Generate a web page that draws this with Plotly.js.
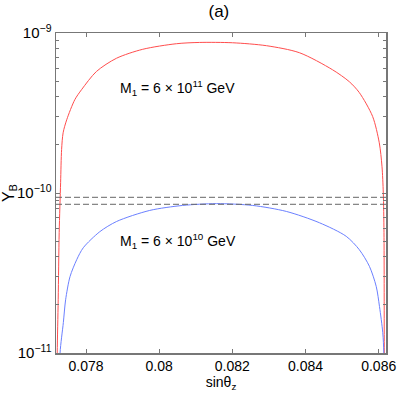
<!DOCTYPE html>
<html>
<head>
<meta charset="utf-8">
<script src="https://cdn.plot.ly/plotly-3.0.1.min.js"></script>
<style>
  html, body { margin: 0; padding: 0; background: #fff; }
  #grafico { width: 398px; height: 398px; }
</style>
</head>
<body>
<div id="grafico"></div>
<script>
// Curva M1 = 6e11 GeV (vermelha)
const xVermelho = [0.07720, 0.077213, 0.07724, 0.077267, 0.077306, 0.077333, 0.077375, 0.077473,
    0.077694, 0.077877, 0.078286, 0.078832, 0.07955, 0.08047, 0.081105, 0.082005, 0.082933,
    0.083833, 0.084734, 0.085198, 0.085471, 0.085834, 0.086016, 0.08609, 0.086126,
    0.086145, 0.086153, 0.08616];
const yVermelho = [5e-12, 1.0e-11, 2.15e-11, 5.65e-11, 1.16e-10, 1.87e-10, 2.38e-10, 2.87e-10,
    3.83e-10, 4.42e-10, 5.75e-10, 6.95e-10, 7.91e-10, 8.57e-10, 8.73e-10, 8.69e-10, 8.33e-10,
    7.53e-10, 5.90e-10, 4.96e-10, 4.24e-10, 3.01e-10, 2.06e-10, 1.47e-10, 1.0e-10,
    5.65e-11, 1.0e-11, 5e-12];

// Curva M1 = 6e10 GeV (azul)
const xAzul = [0.07728, 0.077291, 0.077381, 0.077443, 0.077563, 0.077746, 0.077926, 0.078377,
    0.078838, 0.079741, 0.080641, 0.081566, 0.082557, 0.083476, 0.084379, 0.085113,
    0.085471, 0.085747, 0.085932, 0.086022, 0.086112, 0.08614, 0.08615];
const yAzul = [5e-12, 1.0e-11, 1.55e-11, 2.15e-11, 3.0e-11, 3.83e-11, 4.55e-11, 5.73e-11,
    6.64e-11, 7.78e-11, 8.36e-11, 8.58e-11, 8.36e-11, 7.67e-11, 6.52e-11, 5.36e-11,
    4.42e-11, 3.48e-11, 2.61e-11, 1.95e-11, 1.34e-11, 1.0e-11, 5e-12];

// Faixa observada (linhas tracejadas)
const faixaObs = [9.4e-11, 8.5e-11];

// Ticks
const xTicks = [0.078, 0.08, 0.082, 0.084, 0.086];
const xTickText = ['0.078', '0.08', '0.082', '0.084', '0.086'];
const yTicks = [1e-11, 1e-10, 1e-9];
const yTickText = ['10<sup>−11</sup>', '10<sup>−10</sup>', '10<sup>−9</sup>'];

const xRange = [0.07718, 0.0862];

// ticks menores do eixo log
const yMinor = [];
[1e-11, 1e-10].forEach(d => {
    for (let k = 2; k <= 9; k++) yMinor.push(d * k);
});

const traces = [
    {
        x: xVermelho, y: yVermelho, type: 'scatter', mode: 'lines',
        line: { color: '#ff4d4d', width: 1, shape: 'spline', smoothing: 0.8 }, hoverinfo: 'skip'
    },
    {
        x: xAzul, y: yAzul, type: 'scatter', mode: 'lines',
        line: { color: '#6b80ff', width: 1, shape: 'spline', smoothing: 0.8 }, hoverinfo: 'skip'
    }
];

faixaObs.forEach(v => {
    traces.push({
        x: xRange, y: [v, v], type: 'scatter', mode: 'lines',
        line: { color: '#666', width: 1, dash: '6px,3px' }, hoverinfo: 'skip'
    });
});

const fonte = { family: 'Liberation Sans, Arial, sans-serif', size: 14, color: '#000' };

const layout = {
    width: 398, height: 398,
    margin: { l: 56, r: 12, t: 33, b: 45 },
    paper_bgcolor: '#fff', plot_bgcolor: '#fff',
    showlegend: false,
    font: fonte,
    title: {
        text: '(a)', font: { family: fonte.family, size: 17, color: '#000' },
        x: 0.55, xanchor: 'center', y: 0.972, yanchor: 'middle'
    },
    xaxis: {
        range: xRange,
        tickvals: xTicks, ticktext: xTickText,
        ticks: 'inside', ticklen: 4, tickcolor: '#777',
        showline: true, linecolor: '#777', linewidth: 1.5, mirror: 'allticks',
        showgrid: false, zeroline: false,
        tickfont: fonte,
        title: { text: 'sinθ<sub>z</sub>', font: { family: fonte.family, size: 14 }, standoff: 1 }
    },
    yaxis: {
        type: 'log', range: [-11, -9],
        tickvals: yTicks, ticktext: yTickText,
        ticks: 'inside', ticklen: 4, tickcolor: '#777',
        showline: true, linecolor: '#777', linewidth: 1.5, mirror: 'allticks',
        showgrid: false, zeroline: false,
        tickfont: { family: fonte.family, size: 15, color: '#000' },
        minor: { tickmode: 'array', tickvals: yMinor, ticks: 'inside', ticklen: 3, tickcolor: '#777', showgrid: false },
        title: { text: 'Y<sub>B</sub>', font: { family: fonte.family, size: 16 }, standoff: 4 }
    },
    annotations: [
        {
            x: 0.07887, y: Math.log10(4.55e-10), xref: 'x', yref: 'y',
            text: 'M<sub>1</sub> = 6 × 10<sup>11</sup> GeV', showarrow: false,
            xanchor: 'left', font: { family: fonte.family, size: 14, color: '#000' }
        },
        {
            x: 0.07887, y: Math.log10(5.0e-11), xref: 'x', yref: 'y',
            text: 'M<sub>1</sub> = 6 × 10<sup>10</sup> GeV', showarrow: false,
            xanchor: 'left', font: { family: fonte.family, size: 14, color: '#000' }
        }
    ]
};

Plotly.newPlot('grafico', traces, layout, { displayModeBar: false, staticPlot: true });
</script>
</body>
</html>
